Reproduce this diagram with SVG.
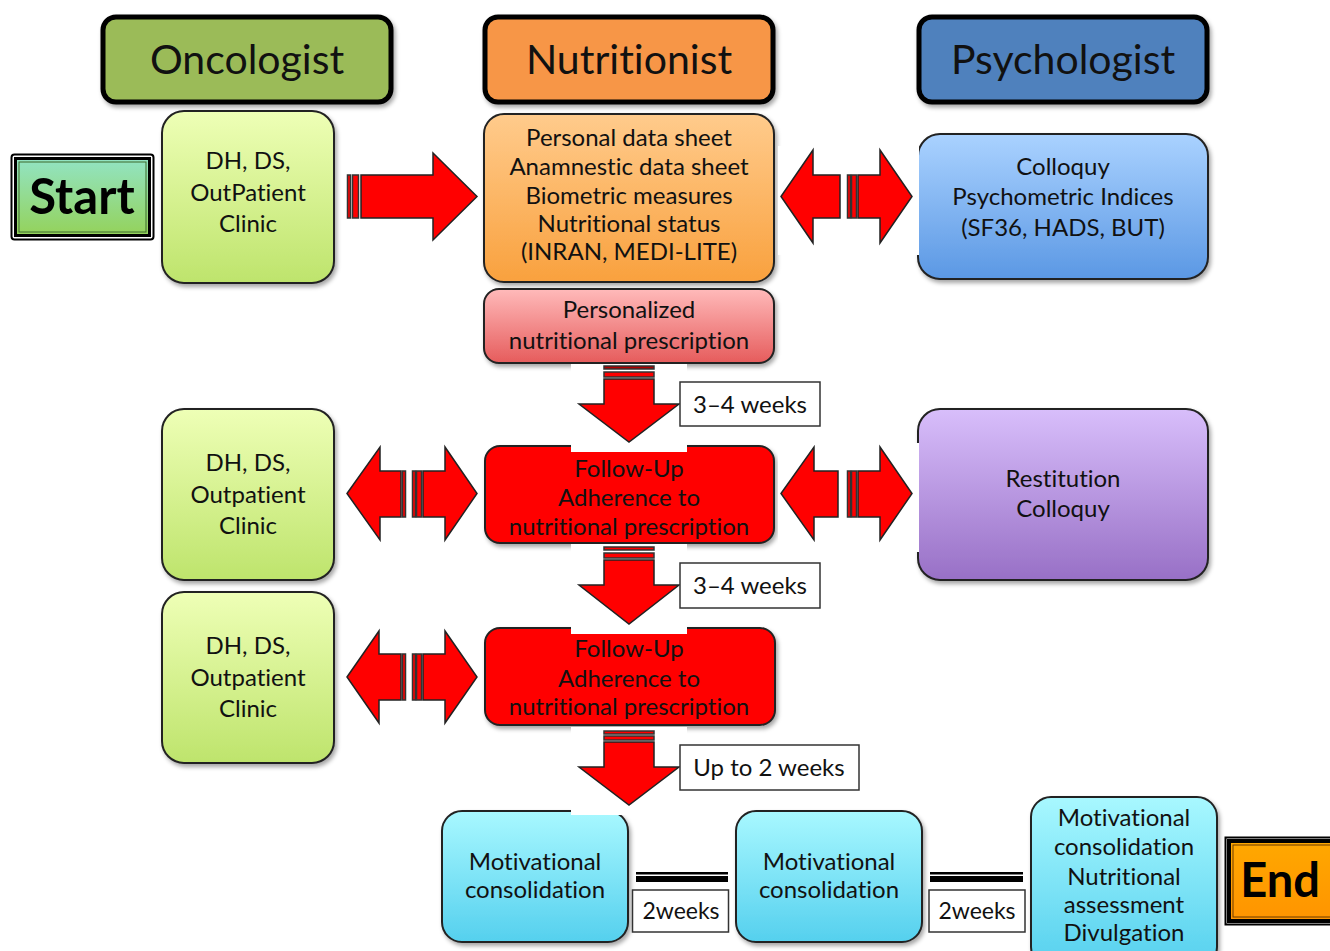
<svg xmlns="http://www.w3.org/2000/svg" width="1330" height="951" viewBox="0 0 1330 951">
<defs>
<filter id="sh" x="-10%" y="-10%" width="125%" height="130%"><feDropShadow dx="2" dy="3" stdDeviation="2" flood-color="#000" flood-opacity="0.35"/></filter>
<linearGradient id="gGreen" x1="0" y1="0" x2="0" y2="1"><stop offset="0" stop-color="#EEFFB6"/><stop offset="1" stop-color="#BEE46C"/></linearGradient>
<linearGradient id="gOrange" x1="0" y1="0" x2="0" y2="1"><stop offset="0" stop-color="#FFCB8C"/><stop offset="1" stop-color="#F9A13E"/></linearGradient>
<linearGradient id="gBlue" x1="0" y1="0" x2="0" y2="1"><stop offset="0" stop-color="#AAD2FF"/><stop offset="1" stop-color="#5B98E4"/></linearGradient>
<linearGradient id="gPink" x1="0" y1="0" x2="0" y2="1"><stop offset="0" stop-color="#FFBABA"/><stop offset="1" stop-color="#E65C5C"/></linearGradient>
<linearGradient id="gPurple" x1="0" y1="0" x2="0" y2="1"><stop offset="0" stop-color="#D8BEFB"/><stop offset="1" stop-color="#9870C6"/></linearGradient>
<linearGradient id="gCyan" x1="0" y1="0" x2="0" y2="1"><stop offset="0" stop-color="#A8F8FF"/><stop offset="1" stop-color="#55D0EE"/></linearGradient>
<linearGradient id="gStart" x1="0" y1="0" x2="0" y2="1"><stop offset="0" stop-color="#92E4C4"/><stop offset="1" stop-color="#94D25A"/></linearGradient>
<linearGradient id="gEnd" x1="0" y1="0" x2="0" y2="1"><stop offset="0" stop-color="#FFA800"/><stop offset="1" stop-color="#FF9400"/></linearGradient>
</defs>
<style>
text{font-family:Lato,"Open Sans","Liberation Sans",sans-serif;fill:#111;text-anchor:middle;font-variant-ligatures:none}
.hdr{stroke:#000;stroke-width:5}
.hdt{font-size:41px}
.box{stroke:#222;stroke-width:2}
.t{font-size:24px}
.s{font-size:23px}
.arr{fill:#FF0000;stroke:#222;stroke-width:1.5;stroke-linejoin:miter}
.str{fill:#FF0000;stroke:#333;stroke-width:1.5}
.lbl{fill:#fff;stroke:#333;stroke-width:1.5}
.big{font-size:49px;font-weight:bold;fill:#000}
.bk{fill:#000}
.wh{fill:#fff}
</style>

<!-- headers -->
<g id="hdr-oncologist"><rect class="hdr" x="103" y="17" width="288" height="85" rx="13" fill="#9BBB59" filter="url(#sh)"/><text class="hdt" x="247" y="74">Oncologist</text></g>
<g id="hdr-nutritionist"><rect class="hdr" x="485" y="17" width="288" height="85" rx="13" fill="#F79646" filter="url(#sh)"/><text class="hdt" x="629" y="74">Nutritionist</text></g>
<g id="hdr-psychologist"><rect class="hdr" x="919" y="17" width="288" height="85" rx="13" fill="#4F81BD" filter="url(#sh)"/><text class="hdt" x="1063" y="74">Psychologist</text></g>

<!-- start -->
<g id="start">
<rect x="11.5" y="154.5" width="142" height="85" rx="3" fill="#fff" stroke="#000" stroke-width="2"/>
<rect x="15.5" y="158.5" width="134" height="77" fill="url(#gStart)" stroke="#000" stroke-width="3"/>
<rect x="19" y="162" width="127" height="70" fill="none" stroke="#3c6a2a" stroke-width="1"/>
<text class="big" x="82" y="214">Start</text>
</g>

<!-- oncologist column -->
<g id="dh1"><rect class="box" x="162" y="111" width="172" height="172" rx="22" fill="url(#gGreen)" filter="url(#sh)"/>
<text class="t" x="248" y="169">DH, DS,</text><text class="t" x="248" y="201">OutPatient</text><text class="t" x="248" y="232">Clinic</text></g>
<g id="dh2"><rect class="box" x="162" y="409" width="172" height="171" rx="22" fill="url(#gGreen)" filter="url(#sh)"/>
<text class="t" x="248" y="471">DH, DS,</text><text class="t" x="248" y="503">Outpatient</text><text class="t" x="248" y="534">Clinic</text></g>
<g id="dh3"><rect class="box" x="162" y="592" width="172" height="171" rx="22" fill="url(#gGreen)" filter="url(#sh)"/>
<text class="t" x="248" y="654">DH, DS,</text><text class="t" x="248" y="686">Outpatient</text><text class="t" x="248" y="717">Clinic</text></g>

<!-- nutritionist column -->
<g id="nutri1"><rect class="box" x="484" y="114" width="290" height="168" rx="20" fill="url(#gOrange)" filter="url(#sh)"/>
<text class="t" x="629" y="146">Personal data sheet</text><text class="t" x="629" y="175">Anamnestic data sheet</text><text class="t" x="629" y="204">Biometric measures</text><text class="t" x="629" y="232">Nutritional status</text><text class="t" x="629" y="260">(INRAN, MEDI-LITE)</text></g>
<g id="presc"><rect class="box" x="484" y="289" width="290" height="74" rx="15" fill="url(#gPink)" filter="url(#sh)"/>
<text class="t" x="629" y="318">Personalized</text><text class="t" x="629" y="349">nutritional prescription</text></g>
<g id="follow1"><rect class="box" x="485" y="446" width="289" height="97" rx="15" fill="#FF0000" filter="url(#sh)"/>
<text class="t" x="629" y="477">Follow-Up</text><text class="t" x="629" y="506">Adherence to</text><text class="t" x="629" y="535">nutritional prescription</text></g>
<g id="follow2"><rect class="box" x="485" y="628" width="290" height="97" rx="15" fill="#FF0000" filter="url(#sh)"/>
<text class="t" x="629" y="657">Follow-Up</text><text class="t" x="629" y="687">Adherence to</text><text class="t" x="629" y="715">nutritional prescription</text></g>

<!-- psychologist column -->
<g id="psy1"><rect class="box" x="918" y="134" width="290" height="145" rx="22" fill="url(#gBlue)" filter="url(#sh)"/>
<text class="t" x="1063" y="175">Colloquy</text><text class="t" x="1063" y="205">Psychometric Indices</text><text class="t" x="1063" y="236">(SF36, HADS, BUT)</text></g>
<g id="psy2"><rect class="box" x="918" y="409" width="290" height="171" rx="22" fill="url(#gPurple)" filter="url(#sh)"/>
<text class="t" x="1063" y="487">Restitution</text><text class="t" x="1063" y="517">Colloquy</text></g>

<!-- bottom row -->
<g id="mot1"><rect class="box" x="442" y="811" width="186" height="131" rx="20" fill="url(#gCyan)" filter="url(#sh)"/>
<text class="t" x="535" y="870">Motivational</text><text class="t" x="535" y="898">consolidation</text></g>
<g id="mot2"><rect class="box" x="736" y="811" width="186" height="131" rx="20" fill="url(#gCyan)" filter="url(#sh)"/>
<text class="t" x="829" y="870">Motivational</text><text class="t" x="829" y="898">consolidation</text></g>
<g id="mot3"><rect class="box" x="1031" y="797" width="186" height="170" rx="20" fill="url(#gCyan)" filter="url(#sh)"/>
<text class="t" x="1124" y="826">Motivational</text><text class="t" x="1124" y="855">consolidation</text><text class="t" x="1124" y="885">Nutritional</text><text class="t" x="1124" y="913">assessment</text><text class="t" x="1124" y="941">Divulgation</text></g>

<!-- end -->
<g id="end">
<rect x="1225.5" y="837.5" width="120" height="87" fill="#fff" stroke="#000" stroke-width="2"/>
<rect x="1229" y="841" width="120" height="80" fill="url(#gEnd)" stroke="#000" stroke-width="4"/>
<rect x="1233" y="845" width="120" height="72" fill="none" stroke="#6a3a00" stroke-width="1"/>
<text class="big" x="1280" y="897" style="font-size:47px">End</text>
</g>

<!-- connectors -->
<g id="connectors">
<!-- start arrow DH1 -> Nutri -->
<rect class="str" x="347.5" y="175" width="3" height="43"/>
<rect class="str" x="352.5" y="175" width="6" height="43"/>
<polygon class="arr" points="361,175 433,175 433,153 477,196.5 433,240 433,218 361,218"/>

<!-- double arrow row1 right -->
<rect class="wh" x="778" y="146" width="141" height="109"/>
<polygon class="arr" points="781,196.5 813,150 813,175 840,175 840,218 813,218 813,243"/>
<rect class="str" x="847.5" y="175" width="3" height="43"/>
<rect class="str" x="851.5" y="175" width="5" height="43"/>
<polygon class="arr" points="858,175 880,175 880,150 912,196.5 880,243 880,218 858,218"/>

<!-- double arrow row2 left -->
<polygon class="arr" points="347,493.5 380,447 380,471 401,471 401,517 380,517 380,540"/>
<rect class="str" x="402.5" y="471" width="3" height="46"/>
<rect class="str" x="412.5" y="471" width="3" height="46"/>
<rect class="str" x="416.5" y="471" width="5" height="46"/>
<polygon class="arr" points="423,471 445,471 445,447 477,493.5 445,540 445,517 423,517"/>

<!-- double arrow row2 right -->
<rect class="wh" x="778" y="443" width="141" height="109"/>
<polygon class="arr" points="781,493.5 814,447 814,471 838,471 838,517 814,517 814,540"/>
<rect class="str" x="847.5" y="471" width="3" height="46"/>
<rect class="str" x="851.5" y="471" width="5" height="46"/>
<polygon class="arr" points="858,471 880,471 880,447 912,493.5 880,540 880,517 858,517"/>

<!-- double arrow row3 left -->
<polygon class="arr" points="347,677 379,631 379,654 401,654 401,700 379,700 379,723"/>
<rect class="str" x="402.5" y="654" width="3" height="46"/>
<rect class="str" x="412.5" y="654" width="3" height="46"/>
<rect class="str" x="416.5" y="654" width="5" height="46"/>
<polygon class="arr" points="423,654 445,654 445,631 477,677 445,723 445,700 423,700"/>

<!-- down arrow 1 -->
<rect class="wh" x="571" y="364" width="116" height="88"/>
<rect class="str" x="604" y="366" width="50" height="3" style="fill:#b00000"/>
<rect class="str" x="604" y="372" width="50" height="5"/>
<polygon class="arr" points="604,379 654,379 654,404 679,404 629,442 579,404 604,404"/>
<g><rect class="lbl" x="680" y="382" width="140" height="44"/><text class="t" x="750" y="413">3–4 weeks</text></g>

<!-- down arrow 2 -->
<rect class="wh" x="571" y="544" width="116" height="90"/>
<rect class="str" x="604" y="547" width="50" height="3"/>
<rect class="str" x="604" y="553" width="50" height="5"/>
<polygon class="arr" points="604,560 654,560 654,585 679,585 629,624 579,585 604,585"/>
<g><rect class="lbl" x="680" y="563" width="140" height="45"/><text class="t" x="750" y="594">3–4 weeks</text></g>

<!-- down arrow 3 -->
<rect class="wh" x="571" y="727" width="116" height="88"/>
<rect class="str" x="604" y="731" width="50" height="3"/>
<rect class="str" x="604" y="736" width="50" height="4"/>
<polygon class="arr" points="604,742 654,742 654,767 679,767 629,805 579,767 604,767"/>
<g><rect class="lbl" x="680" y="745" width="179" height="45"/><text class="t" x="769" y="776">Up to 2 weeks</text></g>

<!-- 2weeks links -->
<rect class="bk" x="636" y="872" width="92" height="2.5"/>
<rect class="bk" x="636" y="876" width="92" height="6"/>
<g><rect class="lbl" x="632.5" y="890" width="96" height="42"/><text class="s" x="681" y="919">2weeks</text></g>
<rect class="bk" x="930" y="872" width="93" height="2.5"/>
<rect class="bk" x="930" y="876" width="93" height="6"/>
<g><rect class="lbl" x="929" y="890" width="96" height="42"/><text class="s" x="977" y="919">2weeks</text></g>
</g>
</svg>
